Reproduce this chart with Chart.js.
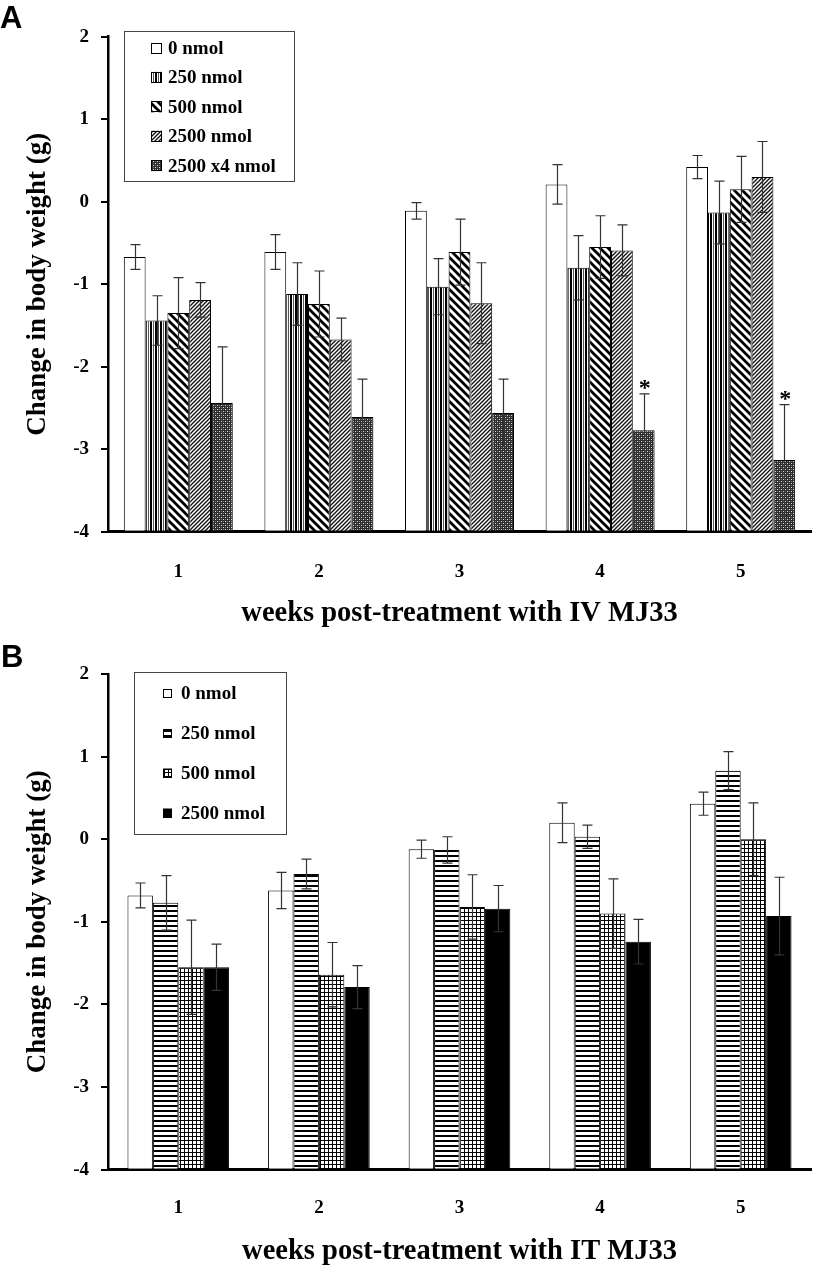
<!DOCTYPE html>
<html><head><meta charset="utf-8">
<script src="https://cdn.jsdelivr.net/npm/chart.js@4.4.0/dist/chart.umd.min.js"></script>
<style>
html,body{margin:0;padding:0;background:#fff}
body{width:815px;height:1266px;position:relative;overflow:hidden}
.cv{position:absolute;left:0}
#ca{top:0}
#cb{top:640px}
.lab{position:absolute;font:bold 31px "Liberation Sans",Arial,sans-serif;color:#000;line-height:1}
</style></head>
<body>
<canvas id="ca" class="cv" width="815" height="640"></canvas>
<canvas id="cb" class="cv" width="815" height="626"></canvas>
<div class="lab" style="left:0px;top:2px">A</div>
<div class="lab" style="left:1px;top:641px">B</div>
<script>
// ---------- data ----------
const weeks = ['1', '2', '3', '4', '5'];
const yTicks = [-4, -3, -2, -1, 0, 1, 2];

// Panel A (IV MJ33)
const seriesA = ['0 nmol', '250 nmol', '500 nmol', '2500 nmol', '2500 x4 nmol'];
const ivDose0      = [-0.67, -0.61, -0.11,  0.21,  0.42];
const ivDose0Err   = [ 0.15,  0.21,  0.10,  0.24,  0.14];
const ivDose250    = [-1.44, -1.12, -1.03, -0.80, -0.13];
const ivDose250Err = [ 0.30,  0.38,  0.34,  0.39,  0.38];
const ivDose500    = [-1.35, -1.24, -0.61, -0.55,  0.15];
const ivDose500Err = [ 0.43,  0.40,  0.40,  0.38,  0.40];
const ivDose2500   = [-1.19, -1.67, -1.23, -0.59,  0.30];
const ivDose2500Err= [ 0.21,  0.26,  0.49,  0.31,  0.43];
const ivDose2500x4    = [-2.44, -2.61, -2.56, -2.77, -3.13];
const ivDose2500x4Err = [ 0.68,  0.46,  0.41,  0.44,  0.67];
const ivDose2500x4Sig = ['', '', '', '*', '*'];

// Panel B (IT MJ33)
const seriesB = ['0 nmol', '250 nmol', '500 nmol', '2500 nmol'];
const itDose0      = [-0.68, -0.62, -0.12,  0.20,  0.43];
const itDose0Err   = [ 0.15,  0.22,  0.11,  0.24,  0.14];
const itDose250    = [-0.77, -0.42, -0.13,  0.03,  0.83];
const itDose250Err = [ 0.33,  0.18,  0.16,  0.14,  0.23];
const itDose500    = [-1.55, -1.64, -0.82, -0.90,  0.00];
const itDose500Err = [ 0.57,  0.39,  0.39,  0.42,  0.44];
const itDose2500   = [-1.55, -1.79, -0.84, -1.24, -0.93];
const itDose2500Err= [ 0.28,  0.26,  0.28,  0.27,  0.47];

// ---------- patterns ----------
function makePattern(w, h, painter) {
  const c = document.createElement('canvas'); c.width = w; c.height = h;
  const g = c.getContext('2d');
  g.fillStyle = '#fff'; g.fillRect(0, 0, w, h);
  painter(g, w, h);
  return g.createPattern(c, 'repeat');
}
const fillWhite = '#ffffff';
const fillVert = makePattern(5, 5, g => { g.fillStyle = '#000'; g.fillRect(0, 0, 2, 5); g.fillStyle = '#555'; g.fillRect(3, 0, 1, 5); });
const fillWideBack = makePattern(8, 8, g => {
  g.strokeStyle = '#000'; g.lineWidth = 2.7;
  for (let k = -1; k <= 1; k++) { g.beginPath(); g.moveTo(-1, k * 8 - 1); g.lineTo(9, 9 + k * 8); g.stroke(); }
});
const fillFineFwd = makePattern(4, 4, g => {
  g.strokeStyle = '#111'; g.lineWidth = 1.3;
  for (let k = 0; k <= 2; k++) { g.beginPath(); g.moveTo(-1, k * 4 + 1); g.lineTo(5, k * 4 - 5); g.stroke(); }
});
const fillDots = makePattern(4, 4, g => {
  g.fillStyle = '#2e2e2e'; g.fillRect(0, 0, 4, 4);
  g.fillStyle = '#d8d8d8'; g.fillRect(1, 1, 1, 1); g.fillRect(3, 3, 1, 1);
  g.fillStyle = '#777'; g.fillRect(3, 1, 1, 1); g.fillRect(1, 3, 1, 1);
});
const fillHoriz = makePattern(5, 5, g => { g.fillStyle = '#000'; g.fillRect(0, 0, 5, 2); });
const fillGrid = makePattern(4, 4, g => { g.fillStyle = '#000'; g.fillRect(0, 0, 4, 1); g.fillRect(0, 0, 1, 4); });
const fillBlack = '#000000';

// ---------- plugins ----------
const serif = '"Liberation Serif","Times New Roman",serif';

const errorBars = {
  id: 'errorBars',
  afterDatasetsDraw(chart) {
    const { ctx } = chart; const y = chart.scales.y;
    ctx.save();
    chart.data.datasets.forEach((ds, i) => {
      const meta = chart.getDatasetMeta(i);
      meta.data.forEach((bar, j) => {
        const v = ds.data[j], e = ds.errors[j];
        const yt = y.getPixelForValue(v + e), yb = y.getPixelForValue(v - e);
        const x = Math.round(bar.x) + 0.5;
        ctx.strokeStyle = '#333'; ctx.lineWidth = 1.2;
        ctx.beginPath();
        ctx.moveTo(x, yt); ctx.lineTo(x, yb);
        ctx.moveTo(x - 5, yt); ctx.lineTo(x + 5, yt);
        ctx.moveTo(x - 5, yb); ctx.lineTo(x + 5, yb);
        ctx.stroke();
        if (ds.marks && ds.marks[j]) {
          ctx.fillStyle = '#000'; ctx.font = 'bold 24px ' + serif;
          ctx.textAlign = 'center'; ctx.textBaseline = 'alphabetic';
          ctx.fillText(ds.marks[j], bar.x + 1, yt + 1);
        }
      });
    });
    ctx.restore();
  }
};

const boxLegend = {
  id: 'boxLegend',
  afterDraw(chart, args, o) {
    const { ctx } = chart;
    ctx.save();
    ctx.strokeStyle = '#444'; ctx.lineWidth = 1;
    ctx.strokeRect(o.x + 0.5, o.y + 0.5, o.w, o.h);
    ctx.font = 'bold 19px ' + serif; ctx.textBaseline = 'middle'; ctx.textAlign = 'left';
    chart.data.datasets.forEach((ds, i) => {
      const cy = o.row0 + i * o.gap;
      ctx.fillStyle = ds.backgroundColor;
      ctx.fillRect(o.sx, cy - o.s / 2, o.s, o.s);
      ctx.strokeStyle = '#000';
      ctx.strokeRect(o.sx + 0.5, Math.round(cy - o.s / 2) + 0.5, o.s - 1, o.s - 1);
      ctx.fillStyle = '#000';
      ctx.fillText(ds.label, o.tx, cy + 1);
    });
    ctx.restore();
  }
};

function buildChart(id, labels, values, errors, fills, marks, catPct, pad, xH, xTitle, titlePadB, tickPadX, legendOpts) {
  return new Chart(document.getElementById(id), {
    type: 'bar',
    data: {
      labels: weeks,
      datasets: labels.map((lab, i) => ({
        label: lab, data: values[i], errors: errors[i], marks: marks[i],
        backgroundColor: fills[i], borderColor: '#000', borderWidth: 1,
        base: yTicks[0], categoryPercentage: catPct, barPercentage: 1
      }))
    },
    options: {
      responsive: false, animation: false, devicePixelRatio: 1,
      layout: { padding: pad },
      plugins: { legend: { display: false }, tooltip: { enabled: false }, boxLegend: legendOpts },
      scales: {
        x: {
          grid: { display: true, drawOnChartArea: false, drawTicks: false },
          border: { color: '#000', width: 3 },
          ticks: { color: '#000', font: { family: serif, weight: 'bold', size: 19 }, padding: tickPadX },
          title: { display: true, text: xTitle, color: '#000',
                   font: { family: serif, weight: 'bold', size: 28.5, lineHeight: 1 },
                   padding: { top: 0, bottom: titlePadB } },
          afterFit(s) { s.height = xH; }
        },
        y: {
          min: yTicks[0], max: yTicks[yTicks.length - 1],
          afterBuildTicks(s) { s.ticks = yTicks.map(v => ({ value: v })); },
          grid: { display: true, drawOnChartArea: false, drawTicks: true, tickLength: 7, color: '#000', lineWidth: 2 },
          border: { color: '#000', width: 2.5 },
          ticks: { color: '#000', font: { family: serif, weight: 'bold', size: 19 }, padding: 12 },
          title: { display: true, text: 'Change in body weight (g)', color: '#000',
                   font: { family: serif, weight: 'bold', size: 27, lineHeight: 1 },
                   padding: { top: 25, bottom: 0 } },
          afterFit(s) { s.width = 108; }
        }
      }
    },
    plugins: [errorBars, boxLegend]
  });
}

buildChart('ca', seriesA,
  [ivDose0, ivDose250, ivDose500, ivDose2500, ivDose2500x4],
  [ivDose0Err, ivDose250Err, ivDose500Err, ivDose2500Err, ivDose2500x4Err],
  [fillWhite, fillVert, fillWideBack, fillFineFwd, fillDots],
  [null, null, null, null, ivDose2500x4Sig],
  0.775, { top: 36.7, right: 4, bottom: 0, left: 0 }, 108.3,
  'weeks post-treatment with IV MJ33', 12.5, 29,
  { x: 124, y: 31, w: 170, h: 150, row0: 48, gap: 29.4, sx: 151, s: 11, tx: 168 });

buildChart('cb', seriesB,
  [itDose0, itDose250, itDose500, itDose2500],
  [itDose0Err, itDose250Err, itDose500Err, itDose2500Err],
  [fillWhite, fillHoriz, fillGrid, fillBlack],
  [null, null, null, null],
  0.723, { top: 34, right: 4, bottom: 0, left: 0 }, 96.3,
  'weeks post-treatment with IT MJ33', 0.5, 27,
  { x: 134, y: 32, w: 152, h: 162, row0: 53, gap: 40, sx: 163, s: 9, tx: 181 });
</script>
</body></html>
